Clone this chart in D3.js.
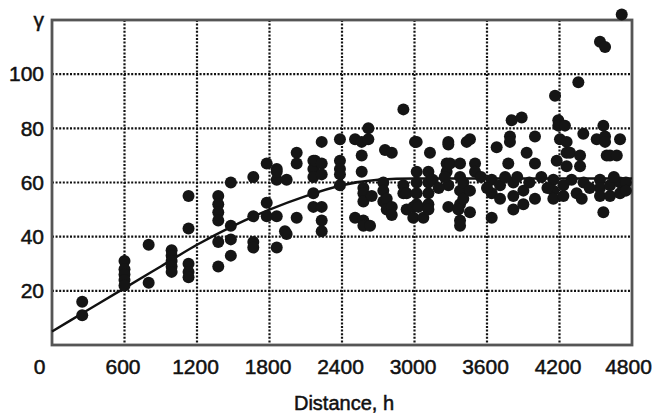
<!DOCTYPE html>
<html>
<head>
<meta charset="utf-8">
<script src="https://cdn.jsdelivr.net/npm/d3@7/dist/d3.min.js"></script>
<style>
  body { margin: 0; background: #fff; }
  svg text { font-family: "Liberation Sans", Arial, sans-serif; fill: #111; stroke: #111; stroke-width: 0.5px; }
</style>
</head>
<body>
<svg width="658" height="416"></svg>
<script>
var svg = d3.select('svg');
var width = +svg.attr('width');
var height = +svg.attr('height');

var padding = {t: 20, r: 26, b: 71, l: 52};
var chartWidth = width - padding.l - padding.r;
var chartHeight = height - padding.t - padding.b;

// tick values
var xTicks = [0, 600, 1200, 1800, 2400, 3000, 3600, 4200, 4800];
var yTicks = [20, 40, 60, 80, 100];
var yTopLabel = '\u03b3';
var xTitle = 'Distance, h';

// fitted model
var modelH = [0, 300, 600, 900, 1200, 1500, 1800, 2100, 2400, 2700, 3000, 4800];
var modelGamma = [5, 13, 21, 29, 37, 44, 50, 55, 59, 61, 61.5, 61.5];

// experimental variogram points (distance, semivariance)
var pointH = [
  250, 250,
  600, 600, 600, 600, 600,
  800, 800,
  990, 990, 990, 990, 990,
  1130, 1130, 1130, 1130, 1130,
  1376, 1376, 1376, 1376, 1376, 1376,
  1480, 1480, 1480, 1480,
  1666, 1666, 1666, 1666,
  1777, 1777, 1777,
  1860, 1860, 1860, 1860, 1860,
  1942, 1942, 2025, 2025, 2025, 1928,
  2163, 2163, 2163, 2163, 2163,
  2177, 2232, 2232, 2232, 2232, 2232, 2232,
  2383, 2383, 2383, 2383, 2383,
  2508, 2508, 2563, 2563, 2563, 2577, 2577, 2577, 2577, 2577, 2632,
  2618, 2618, 2646,
  2742, 2742, 2742, 2756, 2770, 2770, 2812, 2812, 2812,
  2908, 2908, 2908, 2935, 2935, 2990, 2990,
  3004, 3018, 3018, 3018, 3018, 3018, 3032, 3073,
  3115, 3115, 3115, 3115, 3115, 3128,
  3280, 3280, 3266, 3266, 3280, 3280, 3294,
  3377, 3377, 3377, 3377, 3377, 3377, 3363,
  3404, 3404, 3432, 3459, 3459, 3459, 3501, 3501,
  3639, 3639, 3639, 3680, 3708, 3708, 3776,
  3790, 3790, 3804, 3818, 3818, 3818, 3887, 3901, 3901,
  3928, 3997, 3997, 3997,
  4149, 4149, 4149, 4163, 4177, 4190, 4190, 4204, 4232, 4232, 4245,
  4259, 4259, 4259, 4287, 4342, 4356, 4370, 4370, 4384, 4397,
  4508, 4535, 4577, 4535, 4535, 4535, 4563, 4563, 4577, 4577, 4591,
  4618, 4618, 4618, 4674, 4701, 4701, 4701, 4715,
  3150, 3200, 3250, 3550, 3600, 3750, 3850, 3950, 4050, 4100, 4300, 4400, 4450, 4650, 4750, 4750
];
var pointGamma = [
  16, 11,
  31, 28, 26, 24, 22,
  37, 23,
  35, 33, 31, 29, 27,
  55, 43, 30, 27, 25,
  55, 52, 49, 46, 38, 29,
  60, 44, 39, 33,
  62, 47.5, 38, 36,
  67, 52.5, 47.5,
  65, 61, 64, 47.5, 36,
  61, 41, 71, 67, 47, 42,
  68, 65, 62, 56, 51,
  68, 75, 67, 63, 51, 46, 42,
  76, 68, 65, 63, 59,
  76, 47, 75, 70, 64, 58, 56, 53, 46, 44, 44,
  80, 76, 55,
  60, 57, 53, 72, 54, 50, 71, 51, 48,
  87, 59, 56, 56, 50, 51, 47,
  75, 75, 64, 60, 56, 52, 51, 47,
  64, 60, 56, 52, 50, 71,
  75, 74, 67, 64, 59, 51, 67,
  67, 62, 57, 52, 46, 44, 50,
  60, 54, 75, 76, 57, 49, 67, 64,
  61, 56, 47, 73, 59, 54, 67,
  77, 75, 83, 60, 55, 50, 84, 57, 52,
  71, 77, 67, 54,
  61, 57, 54, 92, 68, 83, 81, 76, 59, 55, 81,
  75, 71, 66, 71, 56, 97, 70, 66, 54, 78,
  76, 112, 110, 61, 58, 55, 81, 49, 77, 75, 70,
  70, 59, 55, 70, 76, 60, 56, 122,
  61, 58, 62, 62, 58, 62, 62, 60, 62, 58, 61, 60, 58, 62, 60, 57
];

var points = pointH.map(function(h, i) { return {h: h, g: pointGamma[i]}; });
var model = modelH.map(function(h, i) { return {h: h, g: modelGamma[i]}; });

var xScale = d3.scaleLinear().domain([0, 4800]).range([0, chartWidth]);
var yScale = d3.scaleLinear().domain([0, 120]).range([chartHeight, 0]);

var chartG = svg.append('g').attr('transform', 'translate(' + [padding.l, padding.t] + ')');

// dotted grid
chartG.append('g').selectAll('line.vgrid')
  .data(xTicks.slice(1, -1))
  .enter().append('line')
  .attr('x1', function(d) { return xScale(d); })
  .attr('x2', function(d) { return xScale(d); })
  .attr('y1', 0).attr('y2', chartHeight)
  .attr('stroke', '#111').attr('stroke-width', 2.2).attr('stroke-dasharray', '2,1.6');

chartG.append('g').selectAll('line.hgrid')
  .data(yTicks)
  .enter().append('line')
  .attr('x1', 0).attr('x2', chartWidth)
  .attr('y1', function(d) { return yScale(d); })
  .attr('y2', function(d) { return yScale(d); })
  .attr('stroke', '#111').attr('stroke-width', 2.2).attr('stroke-dasharray', '2,1.6');

// frame
chartG.append('rect')
  .attr('width', chartWidth).attr('height', chartHeight)
  .attr('fill', 'none').attr('stroke', '#555').attr('stroke-width', 2.8);

// model curve
var line = d3.line()
  .x(function(d) { return xScale(d.h); })
  .y(function(d) { return yScale(d.g); })
  .curve(d3.curveMonotoneX);

chartG.append('path')
  .datum(model)
  .attr('d', line)
  .attr('fill', 'none').attr('stroke', '#111').attr('stroke-width', 2.4);

// points
chartG.append('g').selectAll('circle')
  .data(points)
  .enter().append('circle')
  .attr('cx', function(d) { return xScale(d.h); })
  .attr('cy', function(d) { return yScale(d.g); })
  .attr('r', 6)
  .attr('fill', '#151515');

// axes (labels only)
var xAxis = d3.axisBottom(xScale).tickValues(xTicks).tickFormat(d3.format('d'))
  .tickSize(0).tickPadding(14);
var xg = chartG.append('g').attr('transform', 'translate(0,' + chartHeight + ')').call(xAxis);
xg.select('.domain').remove();
xg.selectAll('text').attr('font-size', 21).attr('font-family', null)
  .attr('dx', function(d) { return d === 0 ? -13 : (d === 4800 ? -4 : -2); });

var yAxis = d3.axisLeft(yScale).tickValues(yTicks.concat([120]))
  .tickFormat(function(d) { return d === 120 ? yTopLabel : d; })
  .tickSize(0).tickPadding(8);
var yg = chartG.append('g').call(yAxis);
yg.select('.domain').remove();
yg.selectAll('text').attr('font-size', 21).attr('font-family', null);

svg.append('text')
  .attr('x', padding.l + chartWidth / 2 + 2)
  .attr('y', height - 6)
  .attr('text-anchor', 'middle')
  .attr('font-size', 20)
  .text(xTitle);
</script>
</body>
</html>
